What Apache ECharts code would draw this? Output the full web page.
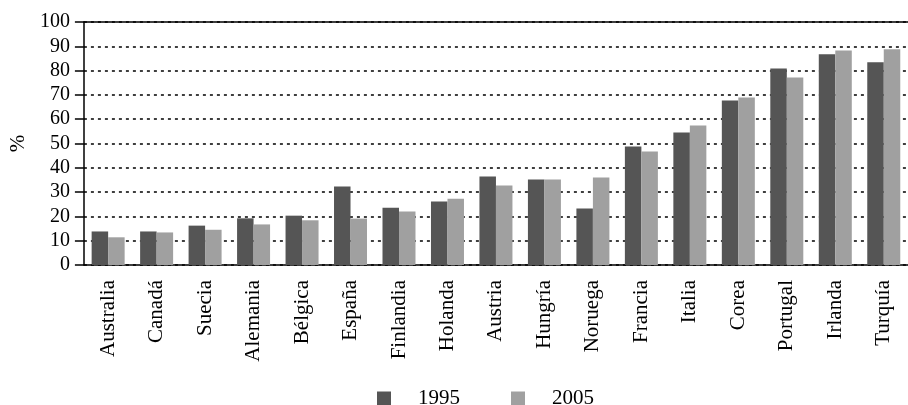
<!DOCTYPE html>
<html><head><meta charset="utf-8">
<script src="https://cdn.jsdelivr.net/npm/echarts@6/dist/echarts.min.js"></script>
<style>html,body{margin:0;padding:0;background:#fff}#c{width:908px;height:405px}</style>
</head><body><div id="c"></div>
<script>
const categories = ['Australia','Canadá','Suecia','Alemania','Bélgica','España','Finlandia','Holanda','Austria','Hungría','Noruega','Francia','Italia','Corea','Portugal','Irlanda','Turquía'];
const values1995 = [13.8,13.8,16.2,19.2,20.3,32.3,23.6,26.1,36.4,35.2,23.2,48.8,54.5,67.7,80.9,86.7,83.4];
const values2005 = [11.4,13.4,14.5,16.7,18.4,19.1,22.0,27.3,32.7,35.2,36.0,46.7,57.4,68.9,77.2,88.3,88.8];
const yTicks = [0,10,20,30,40,50,60,70,80,90,100];

const FONT = 'Liberation Serif';
const chart = echarts.init(document.getElementById('c'));
chart.setOption({
  animation: false,
  backgroundColor: '#fff',
  grid: { left: 80, top: 22, bottom: 140, right: -8 },
  legend: {
    data: ['1995','2005'],
    left: 372, top: 383,
    itemWidth: 14, itemHeight: 14, itemGap: 51,
    icon: 'rect',
    textStyle: { fontFamily: FONT, fontSize: 21, color: '#000', padding: [0,0,0,22] }
  },
  xAxis: [{
    type: 'category', data: categories,
    axisLine: { lineStyle: { color: '#000', width: 1.5 } },
    axisTick: { length: 9, lineStyle: { color: '#000', width: 1.5 } },
    axisLabel: { rotate: 90, margin: 15, fontFamily: FONT, fontSize: 21, color: '#000' }
  },{
    type: 'category', data: categories, position: 'top',
    axisLine: { show: true, lineStyle: { color: '#000', width: 1.5 } },
    axisTick: { show: false }, axisLabel: { show: false }
  }],
  yAxis: {
    type: 'value', min: 0, max: 100, interval: 10,
    name: '%', nameLocation: 'middle', nameGap: 52, nameRotate: 90,
    nameTextStyle: { fontFamily: FONT, fontSize: 21, color: '#000' },
    axisLine: { show: true, lineStyle: { color: '#000', width: 1.5 } },
    axisTick: { show: true, length: 9, lineStyle: { color: '#000', width: 1.5 } },
    axisLabel: { margin: 14, fontFamily: FONT, fontSize: 20, color: '#000',
      formatter: v => yTicks.includes(v) ? String(v) : '' },
    splitLine: { show: true, lineStyle: { color: '#000', width: 1.5, type: [3,4] } }
  },
  series: [
    { name: '1995', type: 'bar', data: values1995, barWidth: 16.5, barGap: '0%',
      itemStyle: { color: '#555555' } },
    { name: '2005', type: 'bar', data: values2005, barWidth: 16.5,
      itemStyle: { color: '#a0a0a0' } }
  ]
});
</script></body></html>
